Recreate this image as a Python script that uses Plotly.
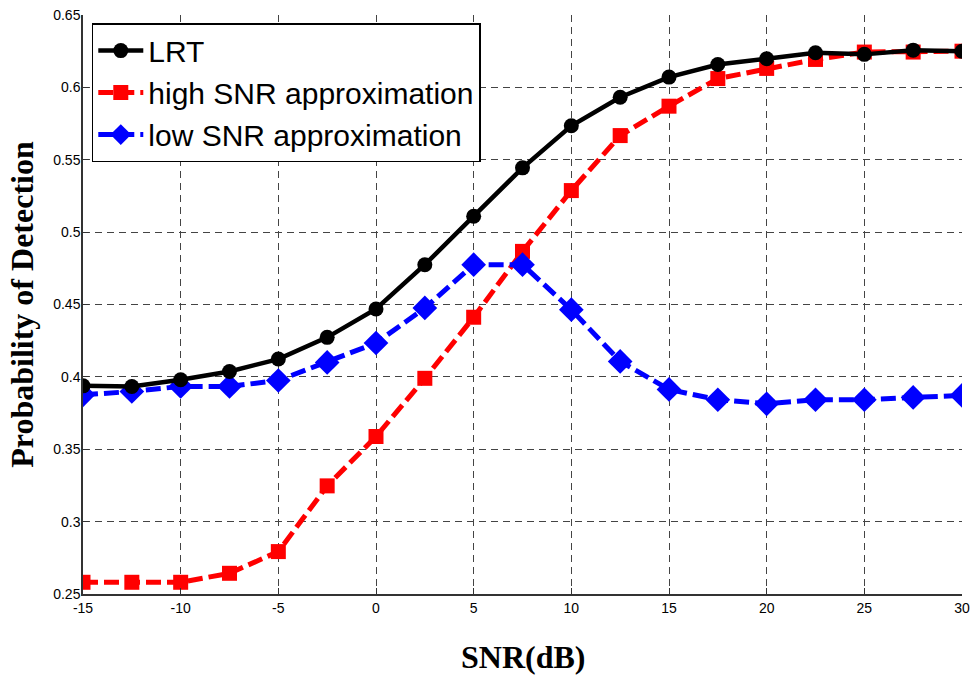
import plotly.graph_objects as go

snr = [-15, -12.5, -10, -7.5, -5, -2.5, 0, 2.5, 5, 7.5, 10, 12.5, 15, 17.5, 20, 22.5, 25, 27.5, 30]

lrt = [0.3938, 0.3934, 0.398, 0.4037, 0.4123, 0.4273, 0.4469, 0.4775, 0.511, 0.5444,
       0.5735, 0.5932, 0.6071, 0.6158, 0.6198, 0.6239, 0.6228, 0.6257, 0.625]
high_snr = [0.2581, 0.2581, 0.2581, 0.2643, 0.2793, 0.3247, 0.3588, 0.399, 0.4412, 0.4867,
            0.5287, 0.5667, 0.587, 0.6061, 0.6131, 0.6193, 0.6244, 0.6244, 0.625]
low_snr = [0.3876, 0.3899, 0.3934, 0.3934, 0.3975, 0.41, 0.4234, 0.4476, 0.4775, 0.4775,
           0.4464, 0.4107, 0.3913, 0.3842, 0.3814, 0.3842, 0.3842, 0.3858, 0.3872]

x_ticks = [-15, -10, -5, 0, 5, 10, 15, 20, 25, 30]
x_ticktext = ["-15", "-10", "-5", "0", "5", "10", "15", "20", "25", "30"]
y_ticks = [0.25, 0.3, 0.35, 0.4, 0.45, 0.5, 0.55, 0.6, 0.65]
y_ticktext = ["0.25", "0.3", "0.35", "0.4", "0.45", "0.5", "0.55", "0.6", "0.65"]

x_title = "SNR(dB)"
y_title = "Probability of Detection"

fig = go.Figure()
fig.add_trace(go.Scatter(
    x=snr, y=high_snr, name="high SNR approximation", mode="lines+markers", legendrank=2,
    line=dict(color="#ff0000", width=5, dash="15px,6px"),
    marker=dict(symbol="square", size=15, color="#ff0000")))
fig.add_trace(go.Scatter(
    x=snr, y=low_snr, name="low SNR approximation", mode="lines+markers", legendrank=3,
    line=dict(color="#0000ff", width=5, dash="15px,6px"),
    marker=dict(symbol="diamond", size=19, color="#0000ff")))
fig.add_trace(go.Scatter(
    x=snr, y=lrt, name="LRT", mode="lines+markers", legendrank=1,
    line=dict(color="#000000", width=4.5),
    marker=dict(symbol="circle", size=15, color="#000000")))

fig.update_layout(
    width=972, height=677,
    margin=dict(l=83, r=10, t=15, b=83),
    plot_bgcolor="white", paper_bgcolor="white",
    font=dict(family="Liberation Sans, Arial", size=14, color="black"),
    showlegend=True,
    legend=dict(
        x=0.01, y=0.986, xanchor="left", yanchor="top",
        bgcolor="white", bordercolor="black", borderwidth=1.5,
        font=dict(family="Liberation Sans, Arial", size=30, color="black"),
        itemwidth=45, tracegroupgap=0,
    ),
    xaxis=dict(
        range=[-15, 30], tickvals=x_ticks, ticktext=x_ticktext, automargin=False,
        showgrid=True, gridcolor="#444444", gridwidth=1, griddash="7px,5px",
        zeroline=False, showline=True, linecolor="#333333", linewidth=1.5,
        ticks="inside", ticklen=6, tickcolor="#333333",
    ),
    yaxis=dict(
        range=[0.25, 0.65], tickvals=y_ticks, ticktext=y_ticktext, automargin="left",
        ticklabelstandoff=-2,
        showgrid=True, gridcolor="#444444", gridwidth=1, griddash="7px,5px",
        zeroline=False, showline=True, linecolor="#333333", linewidth=1.5,
        ticks="inside", ticklen=6, tickcolor="#333333",
        title=dict(text="<b>" + y_title + "</b>", standoff=10,
                   font=dict(family="Liberation Serif, Times New Roman", size=32, color="black")),
    ),
    annotations=[dict(
        text="<b>" + x_title + "</b>", xref="paper", yref="paper",
        x=0.5, y=-0.142, xanchor="center", yanchor="bottom", showarrow=False,
        borderpad=0,
        font=dict(family="Liberation Serif, Times New Roman", size=32, color="black"),
    )],
)

fig.write_html("out.html")
